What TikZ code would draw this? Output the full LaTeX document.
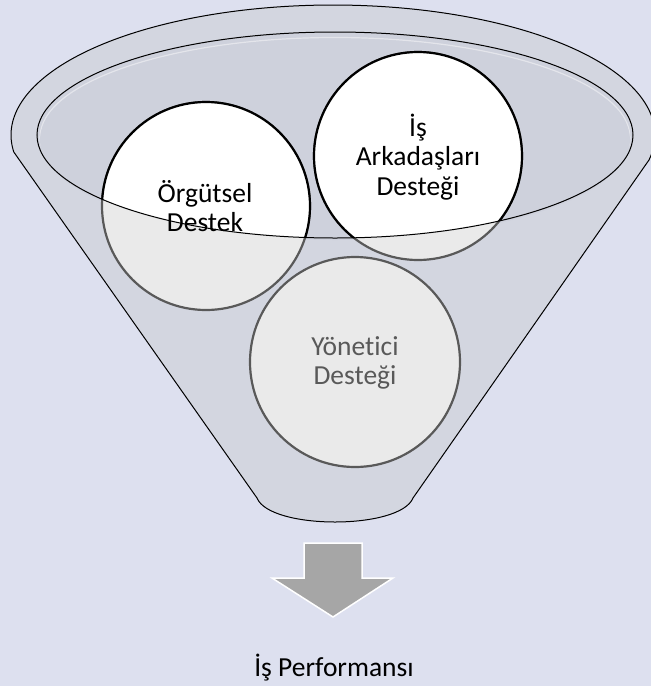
\documentclass[tikz,border=0pt]{standalone}
\usepackage{fontspec}
\setmainfont{Carlito}[Ligatures={NoCommon}]
\definecolor{bgc}{HTML}{DDE0EF}
\definecolor{bodyc}{HTML}{D3D6E0}
\definecolor{innerc}{HTML}{CED1DC}
\definecolor{circc}{HTML}{EAEAEA}
\definecolor{circline}{HTML}{595959}
\definecolor{arrowc}{HTML}{A6A6A6}
\tikzset{
  outline/.style={draw=black, line width=1pt},
  lowcirc/.style={fill=circc, draw=circline, line width=2.2pt},
  highcirc/.style={fill=white, draw=black, line width=2.2pt},
  ctext/.style={align=center, font=\fontsize{27.5}{29.5}\selectfont, inner sep=0pt},
}
\begin{document}
\begin{tikzpicture}[x=1pt, y=-1pt]
\path[use as bounding box] (0,0) rectangle (651,686);
\clip (0,0) rectangle (651,686);
\fill[bgc] (0,0) rectangle (651,686);
% named coordinates
\coordinate (cL) at ({333+322*cos(172.5)},{135+130*sin(172.5)});
\coordinate (cR) at ({333+322*cos(371.1)},{135+130*sin(371.1)});
\coordinate (bL) at (257,498);
\coordinate (bR) at (413,498);
% funnel body
\path[fill=bodyc, outline]
  plot[domain=172.5:371.1, samples=150] ({333+322*cos(\x)},{135+130*sin(\x)})
  -- (bR) .. controls (400,530) and (270,530) .. (bL) -- cycle;
% inner ellipse fill
\fill[innerc] (335,135) ellipse[x radius=298pt, y radius=103pt];
\draw[white, opacity=0.45, line width=1.2pt] (335,137.5) ellipse[x radius=295pt, y radius=100pt];
\fill[innerc] (335,140) ellipse[x radius=295pt, y radius=100pt];
% circles, lower (grey) parts
\draw[lowcirc] (206,206) circle[radius=104pt];
\draw[lowcirc] (418,156) circle[radius=104pt];
\draw[lowcirc] (355,362) circle[radius=105pt];
% circles, upper (white) parts inside the inner ellipse
\begin{scope}
  \clip (335,135) ellipse[x radius=298pt, y radius=103pt];
  \draw[highcirc] (206,206) circle[radius=104pt];
  \draw[highcirc] (418,156) circle[radius=104pt];
\end{scope}
% inner ellipse outline
\draw[outline] (335,135) ellipse[x radius=298pt, y radius=103pt];
% texts
\node[ctext] (org) at (205,206) {Örgütsel\\Destek};
\node[ctext] (ark) at (418,157) {İş\\Arkadaşları\\Desteği};
\node[ctext, text=circline] (yon) at (355,363) {Yönetici\\Desteği};
% arrow
\draw[fill=arrowc, draw=white, line width=1.5pt]
  (304,543) -- (362,543) -- (362,578) -- (393,578) -- (333,617)
  -- (272,578) -- (304,578) -- cycle;
\node[ctext] (perf) at (334,668) {İş Performansı};
\end{tikzpicture}
\end{document}
